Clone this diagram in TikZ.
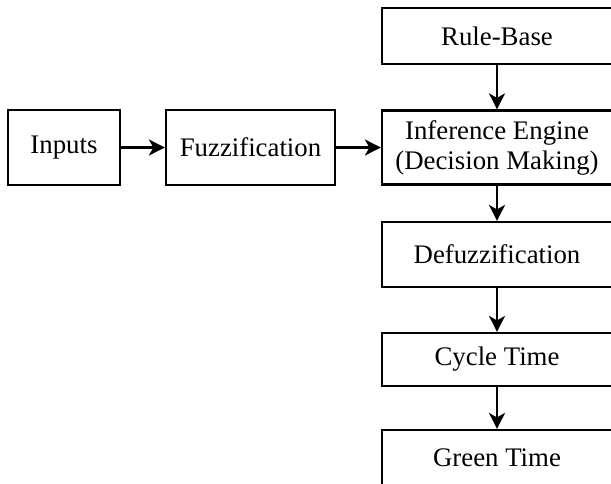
\documentclass[tikz,border=0pt]{standalone}
\usepackage{fontspec}
\setmainfont{Liberation Serif}
\usetikzlibrary{arrows.meta,positioning}
\tikzset{
  block/.style={draw,line width=2.2pt,inner sep=0pt,align=center,font=\fontsize{26.8}{30}\selectfont},
  colblock/.style={block,minimum width=230pt},
  flow/.style={-{Stealth[length=16pt,width=16pt,inset=4.5pt]},line width=2.2pt}
}

\begin{document}
\begin{tikzpicture}[x=1pt,y=-1pt]
  \useasboundingbox (0,0) rectangle (611,483);
  \clip (0,0) rectangle (611,483);

  % input row
  \node[block,minimum width=112pt,minimum height=75pt] (inputs) at (64,147.5) {Inputs};
  \node[block,minimum width=169pt,minimum height=75pt] (fuzz) at (250.5,147.5) {Fuzzification};

  % right column
  \node[colblock,minimum height=56pt] (rules) at (497,36) {Rule-Base};
  \node[colblock,minimum height=74pt] (engine) at (497,147.5) {Inference Engine\\(Decision Making)};
  \node[colblock,minimum height=65pt] (defuzz) at (497,254.5) {Defuzzification};
  \node[colblock,minimum height=53pt] (cycle) at (497,359.5) {Cycle Time};
  \node[colblock,minimum height=56pt] (green) at (497,458) {Green Time};

  % arrows
  \draw[flow] (inputs) -- (fuzz);
  \draw[flow] (fuzz) -- (engine);
  \draw[flow] (rules) -- (engine);
  \draw[flow] (engine) -- (defuzz);
  \draw[flow] (defuzz) -- (cycle);
  \draw[flow] (cycle) -- (green);
\end{tikzpicture}
\end{document}
